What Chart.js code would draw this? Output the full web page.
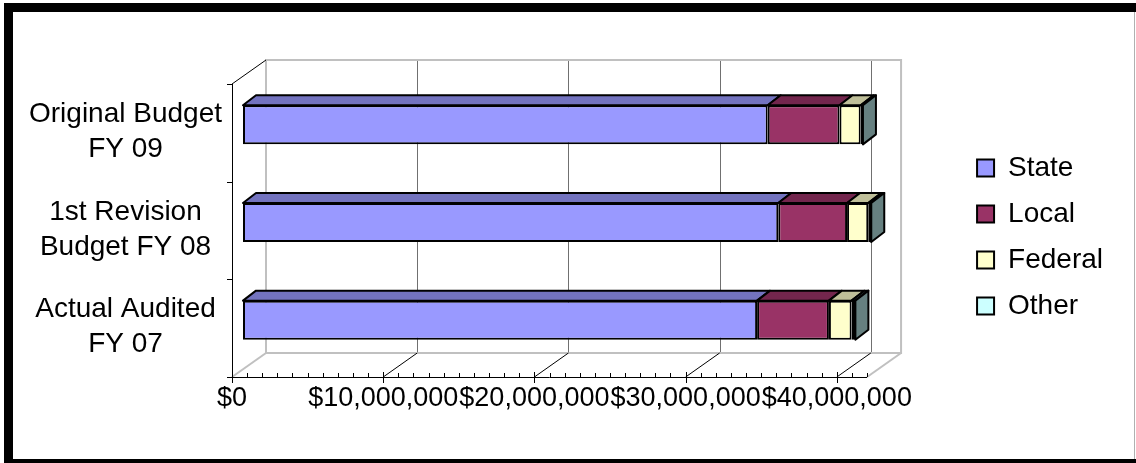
<!DOCTYPE html>
<html>
<head>
<meta charset="utf-8">
<script src="https://cdn.jsdelivr.net/npm/chart.js@4.4.1/dist/chart.umd.min.js"></script>
<style>
  html, body { margin: 0; padding: 0; background: #fff; }
  canvas { display: block; }
</style>
</head>
<body>
<canvas id="myChart" width="1136" height="463"></canvas>
<script>
// categories, top to bottom
var categories = [
  ['Original Budget', 'FY 09'],
  ['1st Revision', 'Budget FY 08'],
  ['Actual Audited', 'FY 07']
];
var seriesNames = ['State', 'Local', 'Federal', 'Other'];
var stateValues = [34700000, 35400000, 34000000];
var localValues = [4750000, 4550000, 4750000];
var federalValues = [1400000, 1400000, 1500000];
var otherValues = [150000, 200000, 250000];

// axis
var tickValues = [0, 10000000, 20000000, 30000000, 40000000];
var tickLabels = ['$0', '$10,000,000', '$20,000,000', '$30,000,000', '$40,000,000'];
var axisMax = 42000000;
var minorStep = 1000000;

// colours
var seriesColors = ['#9999FF', '#993366', '#FFFFCC', '#CCFFFF'];
var FONT = "'Liberation Sans', Arial, sans-serif";

// 3d offsets (pixels)
var FRONT = { dx: -11, dy: 8 };    // front plane, from the bar face
var WALL = { dx: 34, dy: -24 };    // back wall, from the front plane
var BAR = { dx: 13, dy: -10 };     // bar depth

function shade(hex, f) {
  var n = parseInt(hex.slice(1), 16);
  var r = Math.round(((n >> 16) & 255) * f);
  var g = Math.round(((n >> 8) & 255) * f);
  var b = Math.round((n & 255) * f);
  return 'rgb(' + r + ',' + g + ',' + b + ')';
}

function line(ctx, x1, y1, x2, y2) {
  ctx.beginPath();
  ctx.moveTo(x1, y1);
  ctx.lineTo(x2, y2);
  ctx.stroke();
}

function poly(ctx, pts, fill) {
  ctx.beginPath();
  ctx.moveTo(pts[0][0], pts[0][1]);
  for (var i = 1; i < pts.length; i++) ctx.lineTo(pts[i][0], pts[i][1]);
  ctx.closePath();
  ctx.fillStyle = fill;
  ctx.fill();
  ctx.stroke();
}

var plot3d = {
  id: 'plot3d',
  beforeDraw: function(chart) {
    var ctx = chart.ctx;
    ctx.save();
    ctx.fillStyle = '#fff';
    ctx.fillRect(0, 0, chart.width, chart.height);
    // marco
    ctx.fillStyle = '#000';
    ctx.fillRect(4, 3, 9, 460);
    ctx.fillRect(4, 3, chart.width - 4, 9);
    ctx.fillRect(4, 459, chart.width - 4, 4);
    ctx.fillStyle = '#b0b0b0';
    ctx.fillRect(chart.width - 2, 12, 1, 447);
    ctx.restore();
  },
  beforeDatasetsDraw: function(chart) {
    var ctx = chart.ctx, xs = chart.scales.x, ca = chart.chartArea;
    var fx = function(v) { return xs.getPixelForValue(v) + FRONT.dx; };
    var fTop = ca.top + FRONT.dy, fBot = ca.bottom + FRONT.dy;
    var x0 = fx(0), x1 = fx(axisMax);
    var bTop = fTop + WALL.dy, bBot = fBot + WALL.dy;
    ctx.save();

    // gridlines on the back wall
    ctx.strokeStyle = '#707070';
    ctx.lineWidth = 1;
    tickValues.forEach(function(v) {
      if (v === 0) return;
      var x = Math.round(fx(v) + WALL.dx) + 0.5;
      line(ctx, x, bTop, x, bBot);
    });

    // wall and floor edges
    ctx.strokeStyle = '#c0c0c0';
    ctx.lineWidth = 2;
    ctx.beginPath();
    ctx.moveTo(x0 + WALL.dx, bBot);
    ctx.lineTo(x0 + WALL.dx, bTop);
    ctx.lineTo(x1 + WALL.dx, bTop);
    ctx.lineTo(x1 + WALL.dx, bBot);
    ctx.closePath();
    ctx.stroke();
    line(ctx, x0, fBot, x0 + WALL.dx, bBot);
    line(ctx, x1, fBot, x1 + WALL.dx, bBot);

    // floor gridlines and axes
    ctx.strokeStyle = '#000';
    ctx.lineWidth = 1;
    tickValues.forEach(function(v) {
      if (v === 0) return;
      line(ctx, fx(v), fBot, fx(v) + WALL.dx, bBot);
    });
    line(ctx, x0, fTop, x0 + WALL.dx, bTop);
    line(ctx, x0 + 0.5, fTop, x0 + 0.5, fBot);
    line(ctx, x0, fBot + 0.5, x1, fBot + 0.5);

    // category ticks
    var n = categories.length;
    for (var i = 0; i <= n; i++) {
      var y = Math.round(fTop + i * (fBot - fTop) / n) + 0.5;
      line(ctx, x0 - 5, y, x0, y);
    }
    // minor and major ticks
    for (var v = 0; v <= axisMax; v += minorStep) {
      var x = Math.round(fx(v)) + 0.5;
      if (tickValues.indexOf(v) >= 0) line(ctx, x, fBot - 5, x, fBot + 6);
      else line(ctx, x, fBot - 4, x, fBot);
    }
    ctx.restore();
  },
  afterDatasetsDraw: function(chart) {
    var ctx = chart.ctx;
    ctx.save();
    ctx.strokeStyle = '#000';
    ctx.lineWidth = 2;
    ctx.lineJoin = 'round';
    for (var i = 0; i < categories.length; i++) {
      var last = null;
      chart.data.datasets.forEach(function(ds, d) {
        var el = chart.getDatasetMeta(d).data[i];
        var p = el.getProps(['x', 'y', 'base', 'height'], true);
        var top = p.y - p.height / 2;
        poly(ctx, [[p.base, top], [p.base + BAR.dx, top + BAR.dy],
                   [p.x + BAR.dx, top + BAR.dy], [p.x, top]], shade(ds.backgroundColor, 0.75));
        if (!last || p.x >= last.x) last = { x: p.x, top: top, bottom: top + p.height, color: ds.backgroundColor };
      });
      poly(ctx, [[last.x, last.top], [last.x + BAR.dx, last.top + BAR.dy],
                 [last.x + BAR.dx, last.bottom + BAR.dy], [last.x, last.bottom]], shade(last.color, 0.5));
    }
    ctx.restore();
  }
};

var seriesValues = [stateValues, localValues, federalValues, otherValues];

Chart.defaults.color = '#000';
Chart.defaults.font.family = FONT;

var ctx = document.getElementById('myChart').getContext('2d');
var myChart = new Chart(ctx, {
  type: 'bar',
  data: {
    labels: categories,
    datasets: seriesNames.map(function(name, i) {
      return {
        label: name,
        data: seriesValues[i],
        backgroundColor: seriesColors[i],
        borderColor: '#000',
        borderWidth: 2,
        borderSkipped: false,
        categoryPercentage: 1,
        barPercentage: 0.4
      };
    })
  },
  options: {
    indexAxis: 'y',
    responsive: false,
    animation: false,
    layout: { padding: { left: 0, right: 23, top: 45, bottom: 34 } },
    scales: {
      x: {
        stacked: true,
        min: 0,
        max: axisMax,
        grid: { display: false, drawTicks: false },
        border: { display: false },
        afterBuildTicks: function(scale) {
          scale.ticks = tickValues.map(function(v) { return { value: v }; });
        },
        afterFit: function(scale) { scale.height = 60; },
        ticks: {
          autoSkip: false,
          maxRotation: 0,
          padding: 13,
          labelOffset: FRONT.dx,
          font: { size: 27 },
          callback: function(value, index) { return tickLabels[index]; }
        }
      },
      // empty band above the plot
      x2: {
        axis: 'x',
        type: 'linear',
        position: 'top',
        grid: { display: false, drawTicks: false },
        border: { display: false },
        ticks: { display: false },
        afterFit: function(scale) { scale.height = 31; }
      },
      y: {
        stacked: true,
        grid: { display: false, drawTicks: false },
        border: { display: false },
        afterFit: function(scale) { scale.width = 243; },
        ticks: {
          crossAlign: 'center',
          padding: 21,
          labelOffset: 7,
          font: { size: 28, lineHeight: 1.25 }
        }
      },
      // gap between the plot and the legend
      y2: {
        axis: 'y',
        type: 'linear',
        position: 'right',
        grid: { display: false, drawTicks: false },
        border: { display: false },
        ticks: { display: false },
        afterFit: function(scale) { scale.width = 81; }
      }
    },
    plugins: {
      legend: {
        position: 'right',
        labels: {
          boxWidth: 17,
          boxHeight: 17,
          padding: 18,
          color: '#000',
          font: { size: 28 }
        }
      },
      tooltip: { enabled: false }
    }
  },
  plugins: [plot3d]
});
</script>
</body>
</html>
